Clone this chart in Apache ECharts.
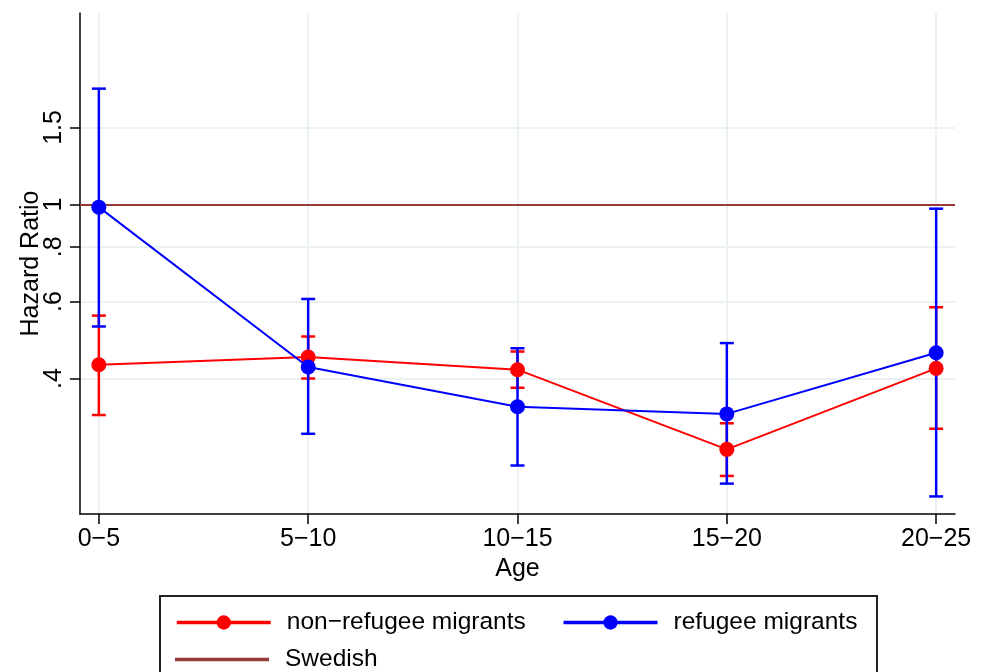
<!DOCTYPE html>
<html>
<head>
<meta charset="utf-8">
<script src="https://cdn.jsdelivr.net/npm/echarts@6/dist/echarts.min.js"></script>
<style>
  html, body { margin: 0; padding: 0; background: #fff; }
  #chart { width: 988px; height: 672px; }
</style>
</head>
<body>
<div id="chart"></div>
<script>
// age groups on the x axis
var ageGroups = ['0\u22125', '5\u221210', '10\u221215', '15\u221220', '20\u221225'];

// hazard ratios
var nonRefHR = [0.430, 0.448, 0.419, 0.2755, 0.422];
var nonRefLo = [0.330, 0.400, 0.381, 0.2395, 0.307];
var nonRefHi = [0.557, 0.499, 0.461, 0.316, 0.582];

var refHR = [0.986, 0.425, 0.3446, 0.332, 0.458];
var refLo = [0.526, 0.299, 0.253, 0.230, 0.215];
var refHi = [1.84, 0.608, 0.469, 0.482, 0.978];

var swedishHR = 1;

// y ticks (log scale)
var yTicks = [0.4, 0.6, 0.8, 1, 1.5];
var yTickLabels = ['.4', '.6', '.8', '1', '1.5'];

var FONT = 'Liberation Sans';
var FS = 25;
var RED = '#ff0000', BLUE = '#0000ff', BROWN = '#983a3a';

function pts(vals) {
    return vals.map(function (v, i) { return [i, Math.log(v)]; });
}
function ciData(lo, hi) {
    return lo.map(function (l, i) { return [i, Math.log(l), Math.log(hi[i])]; });
}
function ciRender(color) {
    return function (params, api) {
        var top = api.coord([api.value(0), api.value(2)]);
        var bot = api.coord([api.value(0), api.value(1)]);
        var w = 7;
        var st = { stroke: color, lineWidth: 2.5 };
        return {
            type: 'group',
            children: [
                { type: 'line', shape: { x1: top[0], y1: top[1], x2: bot[0], y2: bot[1] }, style: st },
                { type: 'line', shape: { x1: top[0] - w, y1: top[1], x2: top[0] + w, y2: top[1] }, style: st },
                { type: 'line', shape: { x1: bot[0] - w, y1: bot[1], x2: bot[0] + w, y2: bot[1] }, style: st }
            ]
        };
    };
}

var chart = echarts.init(document.getElementById('chart'));
var option = {
    animation: false,
    textStyle: { fontFamily: FONT },
    grid: { left: 80, right: 33, top: 13, bottom: 158 },
    graphic: [{
        type: 'rect',
        shape: { x: 160, y: 596, width: 717, height: 100 },
        style: { fill: '#fff', stroke: '#222', lineWidth: 2 },
        z: -1
    }],
    legend: [{
        data: ['non\u2212refugee migrants', 'refugee migrants'],
        left: 170, top: 605,
        itemWidth: 94, itemHeight: 18, itemGap: 36,
        lineStyle: { width: 3.5 },
        textStyle: { fontSize: 24.5, fontFamily: FONT, color: '#000', padding: [0, 0, 0, 11] }
    }, {
        data: [{ name: 'Swedish', icon: 'rect' }],
        left: 170, top: 642,
        itemWidth: 94, itemHeight: 3.5,
        textStyle: { fontSize: 24.5, fontFamily: FONT, color: '#000', padding: [0, 0, 0, 11] }
    }],
    xAxis: {
        type: 'value',
        min: -0.09, max: 4.09,
        name: 'Age',
        nameLocation: 'middle',
        nameGap: 40,
        nameTextStyle: { fontSize: FS, color: '#000' },
        axisLine: { onZero: false, lineStyle: { color: '#000', width: 1.5 } },
        axisTick: { customValues: [0, 1, 2, 3, 4], length: 10, lineStyle: { color: '#000', width: 1.5 } },
        axisLabel: {
            customValues: [0, 1, 2, 3, 4],
            fontSize: FS, color: '#000', margin: 13,
            formatter: function (v) { return ageGroups[Math.round(v)]; }
        },
        splitLine: { show: true, lineStyle: { color: '#eaf2f3', width: 2 } }
    },
    yAxis: {
        type: 'value',
        min: Math.log(0.196), max: Math.log(2.74),
        name: 'Hazard Ratio',
        nameLocation: 'middle',
        nameRotate: 90,
        nameGap: 36,
        nameMoveOverlap: false,
        nameTextStyle: { fontSize: FS, color: '#000' },
        axisLine: { show: true, onZero: false, lineStyle: { color: '#000', width: 1.5 } },
        axisTick: { show: true, customValues: yTicks.map(Math.log), length: 10, lineStyle: { color: '#000', width: 1.5 } },
        axisLabel: {
            customValues: yTicks.map(Math.log),
            rotate: 90,
            fontSize: FS, color: '#000', margin: 13,
            formatter: function (v) {
                var best = 0;
                for (var i = 0; i < yTicks.length; i++) {
                    if (Math.abs(Math.log(yTicks[i]) - v) < Math.abs(Math.log(yTicks[best]) - v)) best = i;
                }
                return yTickLabels[best];
            }
        },
        splitLine: { show: true, lineStyle: { color: '#eaf2f3', width: 2 } }
    },
    series: [
        {
            name: 'non\u2212refugee migrants ci',
            type: 'custom',
            renderItem: ciRender(RED),
            data: ciData(nonRefLo, nonRefHi),
            encode: { x: 0, y: [1, 2] },
            z: 2
        },
        {
            name: 'refugee migrants ci',
            type: 'custom',
            renderItem: ciRender(BLUE),
            data: ciData(refLo, refHi),
            encode: { x: 0, y: [1, 2] },
            z: 3
        },
        {
            name: 'Swedish',
            type: 'line',
            data: [],
            symbol: 'none',
            itemStyle: { color: BROWN },
            lineStyle: { color: BROWN, width: 2 },
            markLine: {
                silent: true,
                symbol: 'none',
                label: { show: false },
                lineStyle: { color: BROWN, width: 2, type: 'solid' },
                data: [{ yAxis: Math.log(swedishHR) }]
            },
            z: 1
        },
        {
            name: 'non\u2212refugee migrants',
            type: 'line',
            data: pts(nonRefHR),
            symbol: 'circle',
            symbolSize: 15,
            itemStyle: { color: RED },
            lineStyle: { color: RED, width: 2 },
            z: 4
        },
        {
            name: 'refugee migrants',
            type: 'line',
            data: pts(refHR),
            symbol: 'circle',
            symbolSize: 15,
            itemStyle: { color: BLUE },
            lineStyle: { color: BLUE, width: 2 },
            z: 5
        }
    ]
};
chart.setOption(option);
</script>
</body>
</html>
